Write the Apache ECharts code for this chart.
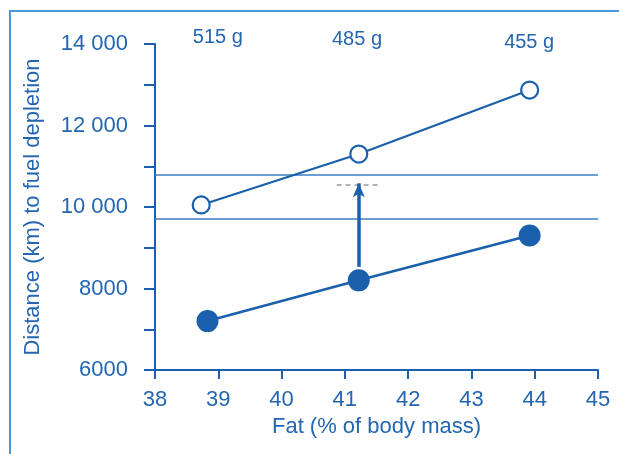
<!DOCTYPE html>
<html>
<head>
<meta charset="utf-8">
<script src="https://cdn.jsdelivr.net/npm/echarts@6/dist/echarts.min.js"></script>
<style>
html,body{margin:0;padding:0;background:#fff;}
#c{width:619px;height:454px;}
</style>
</head>
<body>
<div id="c"></div>
<script>
// Data
const fatLean = [38.73, 41.22, 43.92];
const distLean = [10050, 11300, 12870];
const fatFilled = [38.83, 41.22, 43.92];
const distFilled = [7200, 8200, 9300];
const massLabels = ['515 g', '485 g', '455 g'];
const massLabelX = [39.0, 41.2, 43.92];
const massLabelY = [14150, 14090, 14020];
const refLines = [10800, 9700];
const dashedLevel = 10540;
const dashedRange = [40.87, 41.55];
const arrowX = 41.22;
const arrowRange = [8530, 10580];
const xTicks = [38, 39, 40, 41, 42, 43, 44, 45];
const yTickLabels = {6000: '6000', 8000: '8000', 10000: '10 000', 12000: '12 000', 14000: '14 000'};

const lineColor = '#1a60ac';
const textColor = '#2466b0';
const font = 'Liberation Sans, Arial, sans-serif';

const chart = echarts.init(document.getElementById('c'));
chart.setOption({
  backgroundColor: '#fff',
  animation: false,
  graphic: [{
    type: 'rect',
    shape: {x: 10, y: 11, width: 700, height: 600},
    style: {fill: 'none', stroke: '#4a97dc', lineWidth: 2},
    z: 0
  }],
  grid: {left: 155, right: 21, top: 44, bottom: 84},
  xAxis: {
    type: 'value', min: xTicks[0], max: xTicks[xTicks.length - 1], interval: 1,
    name: 'Fat (% of body mass)', nameLocation: 'middle', nameGap: 45,
    nameTextStyle: {color: textColor, fontSize: 22, fontFamily: font},
    axisLine: {show: true, lineStyle: {color: lineColor, width: 2}},
    axisTick: {show: true, length: 9, lineStyle: {color: lineColor, width: 2}},
    axisLabel: {color: textColor, fontSize: 22, fontFamily: font, margin: 19},
    splitLine: {show: false}
  },
  yAxis: {
    type: 'value', min: 6000, max: 14000, interval: 1000,
    name: 'Distance (km) to fuel depletion', nameLocation: 'middle', nameGap: 111,
    nameTextStyle: {color: textColor, fontSize: 22, fontFamily: font},
    axisLine: {show: true, lineStyle: {color: lineColor, width: 2}},
    axisTick: {show: true, length: 11, lineStyle: {color: lineColor, width: 2}},
    axisLabel: {color: textColor, fontSize: 22, fontFamily: font, margin: 27,
      formatter: v => yTickLabels[v] || ''},
    splitLine: {show: false}
  },
  series: [
    {
      type: 'line',
      data: fatLean.map((x, i) => [x, distLean[i]]),
      symbol: 'circle', symbolSize: 17,
      itemStyle: {color: '#fff', borderColor: lineColor, borderWidth: 2.2},
      lineStyle: {color: lineColor, width: 2.2},
      z: 5,
      markLine: {
        silent: true, symbol: 'none', label: {show: false},
        lineStyle: {color: '#3d7cc2', width: 1.6, type: 'solid'},
        data: refLines.map(v => ({yAxis: v}))
      }
    },
    {
      type: 'line',
      data: fatFilled.map((x, i) => [x, distFilled[i]]),
      symbol: 'circle', symbolSize: 22,
      itemStyle: {color: lineColor, borderColor: lineColor, borderWidth: 0},
      lineStyle: {color: lineColor, width: 2.6},
      z: 5,
      markLine: {
        silent: true, label: {show: false},
        data: [
          [{coord: [dashedRange[0], dashedLevel], symbol: 'none', lineStyle: {color: '#999', width: 1.5, type: [5, 4]}},
           {coord: [dashedRange[1], dashedLevel], symbol: 'none'}],
          [{coord: [arrowX, arrowRange[0]], symbol: 'none', lineStyle: {color: lineColor, width: 3.5, type: 'solid'}},
           {coord: [arrowX, arrowRange[1]], symbol: 'arrow', symbolSize: [9, 14]}]
        ]
      }
    },
    {
      type: 'scatter',
      data: massLabelX.map((x, i) => ({value: [x, massLabelY[i]], name: massLabels[i]})),
      symbolSize: 1,
      itemStyle: {color: 'rgba(0,0,0,0)', opacity: 1},
      clip: false,
      silent: true,
      label: {show: true, position: [0, 0], align: 'center', verticalAlign: 'middle',
        formatter: p => p.name, textBorderWidth: 0,
        color: textColor, fontSize: 20, fontFamily: font}
    }
  ]
});
</script>
</body>
</html>
